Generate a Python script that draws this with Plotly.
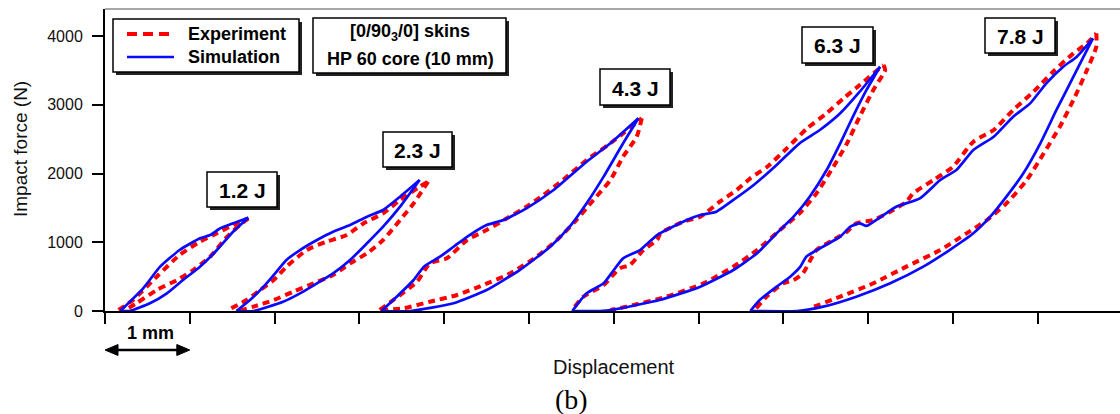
import plotly.graph_objects as go

# ---------------------------------------------------------------------------
# Force–displacement loops, [0/90_3/0] skins on HP 60 core (10 mm)
# Displacement in mm (each loop offset along the axis), force in N
# ---------------------------------------------------------------------------

energy_labels = ["1.2 J", "2.3 J", "4.3 J", "6.3 J", "7.8 J"]

# --- 1.2 J ---
sim_12_x = [0.18, 0.45, 0.65, 0.88, 1.12, 1.24, 1.36, 1.51, 1.69,
            1.51, 1.32, 1.12, 0.92, 0.73, 0.53, 0.29, 0.18]
sim_12_y = [0, 330, 645, 887, 1057, 1105, 1203, 1276, 1357,
            1153, 887, 645, 451, 257, 112, 0, 0]
exp_12_x = [0.16, 0.33, 0.61, 0.88, 1.12, 1.32, 1.51, 1.69,
            1.59, 1.44, 1.24, 1.04, 0.85, 0.61, 0.37, 0.24]
exp_12_y = [15, 160, 499, 815, 1008, 1130, 1251, 1348,
            1251, 1081, 790, 596, 451, 305, 112, 15]

# --- 2.3 J ---
sim_23_x = [1.55, 1.71, 1.87, 1.99, 2.14, 2.30, 2.50, 2.69, 2.89, 3.09, 3.28, 3.48, 3.71,
            3.48, 3.28, 3.09, 2.89, 2.69, 2.50, 2.30, 2.10, 1.75, 1.55]
sim_23_y = [0, 160, 354, 524, 742, 887, 1033, 1153, 1251, 1372, 1469, 1663, 1905,
            1517, 1226, 985, 742, 548, 403, 257, 135, 0, 0]
exp_23_x = [1.49, 1.67, 1.83, 1.99, 2.14, 2.38, 2.61, 2.85, 3.05, 3.28, 3.48, 3.71, 3.81,
            3.64, 3.48, 3.28, 3.09, 2.89, 2.69, 2.46, 2.22, 1.99, 1.75, 1.59]
exp_23_y = [39, 160, 305, 451, 645, 887, 1008, 1105, 1276, 1421, 1615, 1808, 1881,
            1566, 1324, 1033, 839, 693, 524, 403, 281, 160, 63, 5]

# --- 4.3 J ---
sim_43_x = [3.26, 3.44, 3.64, 3.76, 3.95, 4.11, 4.30, 4.50, 4.70, 4.97, 5.29, 5.68, 5.96, 6.29,
            6.11, 5.88, 5.68, 5.48, 5.25, 4.89, 4.50, 4.11, 3.60, 3.26]
sim_43_y = [0, 208, 451, 645, 790, 935, 1105, 1251, 1324, 1494, 1760, 2172, 2439, 2803,
            2439, 1954, 1566, 1226, 935, 596, 305, 112, 0, 0]
exp_43_x = [3.24, 3.40, 3.68, 3.83, 4.03, 4.27, 4.50, 4.74, 4.97, 5.17, 5.40, 5.68, 5.96, 6.33,
            6.27, 6.11, 5.96, 5.76, 5.56, 5.33, 5.09, 4.78, 4.46, 4.15, 3.83, 3.52, 3.28]
exp_43_y = [15, 160, 426, 693, 766, 1033, 1178, 1348, 1517, 1687, 1905, 2196, 2439, 2803,
            2535, 2245, 1905, 1615, 1324, 1033, 790, 548, 378, 233, 135, 39, 15]

# --- 6.3 J ---
sim_63_x = [5.51, 5.68, 5.88, 6.00, 6.11, 6.31, 6.51, 6.66, 6.86, 7.02, 7.21, 7.41, 7.65,
            7.92, 8.19, 8.43, 8.67, 8.90, 9.14,
            8.98, 8.82, 8.67, 8.51, 8.31, 8.12, 7.92, 7.69, 7.41, 7.02, 6.54, 5.97, 5.84, 5.51]
sim_63_y = [0, 257, 403, 596, 766, 887, 1105, 1203, 1324, 1396, 1445, 1615, 1833,
            2124, 2439, 2633, 2876, 3190, 3553,
            3215, 2827, 2439, 2051, 1663, 1372, 1130, 839, 596, 354, 160, 15, 0, 0]
exp_63_x = [5.54, 5.64, 5.88, 6.07, 6.19, 6.35, 6.51, 6.55, 6.82, 7.02, 7.25, 7.45, 7.61,
            7.81, 8.04, 8.28, 8.51, 8.71, 8.90, 9.18,
            9.20, 9.06, 8.90, 8.75, 8.59, 8.39, 8.19, 7.96, 7.69, 7.41, 7.06, 6.62, 6.15, 5.96]
exp_63_y = [63, 208, 378, 621, 669, 887, 1033, 1130, 1299, 1372, 1590, 1760, 1930,
            2099, 2366, 2657, 2876, 3094, 3287, 3578,
            3505, 3215, 2827, 2439, 2099, 1711, 1421, 1178, 887, 645, 403, 208, 63, 15]

# --- 7.8 J ---
sim_78_x = [7.61, 7.72, 7.92, 8.08, 8.20, 8.27, 8.43, 8.67, 8.79, 8.90, 8.98, 9.18, 9.33,
            9.61, 9.85, 10.04, 10.24, 10.48, 10.71, 10.91, 11.10, 11.30, 11.46, 11.65,
            11.42, 11.22, 11.03, 10.83, 10.63, 10.44, 10.24, 9.96, 9.65, 9.26, 8.86, 8.47,
            8.16, 7.61]
sim_78_y = [0, 160, 354, 499, 645, 790, 911, 1081, 1227, 1275, 1237, 1396, 1517,
            1639, 1905, 2051, 2342, 2535, 2827, 3020, 3311, 3553, 3699, 3966,
            3408, 2924, 2439, 2003, 1663, 1372, 1130, 887, 645, 403, 208, 63,
            0, 0]
exp_78_x = [7.68, 7.80, 8.00, 8.12, 8.23, 8.39, 8.59, 8.75, 8.86, 9.06, 9.26, 9.45, 9.53,
            9.77, 10.00, 10.24, 10.48, 10.71, 10.95, 11.18, 11.42, 11.58, 11.69,
            11.69, 11.58, 11.42, 11.26, 11.07, 10.87, 10.63, 10.40, 10.16, 9.85, 9.45,
            9.06, 8.67, 8.31]
exp_78_y = [39, 208, 403, 451, 548, 887, 1033, 1154, 1275, 1324, 1445, 1590, 1711,
            1905, 2099, 2463, 2633, 2924, 3190, 3481, 3748, 3894, 4039,
            3845, 3505, 3069, 2681, 2294, 1905, 1566, 1324, 1130, 887, 645,
            403, 208, 39]

y_ticks = [0, 1000, 2000, 3000, 4000]
x_ticks = list(range(0, 12))

sim_loops = [(sim_12_x, sim_12_y), (sim_23_x, sim_23_y), (sim_43_x, sim_43_y),
             (sim_63_x, sim_63_y), (sim_78_x, sim_78_y)]
exp_loops = [(exp_12_x, exp_12_y), (exp_23_x, exp_23_y), (exp_43_x, exp_43_y),
             (exp_63_x, exp_63_y), (exp_78_x, exp_78_y)]

RED = "#ff0000"
BLUE = "#0a0aff"
SANS = "Liberation Sans, Arial, sans-serif"
SERIF = "Liberation Serif, Times New Roman, serif"
EXP_DASH = "7px,5px"

# Figure geometry (pixels)
W, H = 1120, 414
ML, MR, MT, MB = 105, 0, 9, 103
PW, PH = W - ML - MR, H - MT - MB
X_MAX = PW / 84.8          # 1 mm of displacement ≈ 84.8 px
Y_MAX = PH / 68.75 * 1000  # 1000 N ≈ 68.75 px


def fx(p):
    """Pixel column -> paper x."""
    return (p - ML) / PW


def fy(p):
    """Pixel row -> paper y."""
    return (H - MB - p) / PH


def branches(xs, ys):
    """Split a loop at its peak force into loading and unloading branches."""
    k = ys.index(max(ys))
    return [(xs[:k + 1], ys[:k + 1]), (xs[k:], ys[k:])]


fig = go.Figure()

for (ex, ey) in exp_loops:
    for bx, by in branches(ex, ey):
        fig.add_trace(go.Scatter(x=bx, y=by, mode="lines", showlegend=False,
                                 line=dict(color=RED, width=4, dash=EXP_DASH,
                                           shape="spline", smoothing=0.6),
                                 hoverinfo="skip"))
for (sx, sy) in sim_loops:
    for bx, by in branches(sx, sy):
        fig.add_trace(go.Scatter(x=bx, y=by, mode="lines", showlegend=False,
                                 line=dict(color=BLUE, width=2.7,
                                           shape="spline", smoothing=0.5),
                                 hoverinfo="skip"))

shapes = []
annotations = []

# Top frame line
shapes.append(dict(type="line", xref="paper", yref="paper", x0=0, x1=1, y0=1, y1=1,
                   line=dict(color="#8a8a8a", width=1.5), layer="above"))


def shadow_box(x0, y0, x1, y1):
    """Boxed label with a dark drop shadow (pixel coordinates)."""
    shapes.append(dict(type="rect", xref="paper", yref="paper",
                       x0=fx(x0 + 3), x1=fx(x1 + 3), y0=fy(y1 + 3), y1=fy(y0 + 3),
                       fillcolor="#222222", line=dict(width=0), layer="above"))
    shapes.append(dict(type="rect", xref="paper", yref="paper",
                       x0=fx(x0), x1=fx(x1), y0=fy(y1), y1=fy(y0),
                       fillcolor="white", line=dict(color="black", width=1.5),
                       layer="above"))


def text(px, py, s, size=17, bold=True, family=SANS, xanchor="center", angle=0,
         color="black"):
    annotations.append(dict(xref="paper", yref="paper", x=fx(px), y=fy(py),
                            text=f"<b>{s}</b>" if bold else s, showarrow=False,
                            xanchor=xanchor, yanchor="middle", textangle=angle,
                            font=dict(family=family, size=size, color=color)))


# Legend
shadow_box(113, 19, 299, 72)
shapes.append(dict(type="line", xref="paper", yref="paper",
                   x0=fx(127), x1=fx(174), y0=fy(34), y1=fy(34),
                   line=dict(color=RED, width=4, dash="10px,6px"), layer="above"))
shapes.append(dict(type="line", xref="paper", yref="paper",
                   x0=fx(127), x1=fx(174), y0=fy(57), y1=fy(57),
                   line=dict(color=BLUE, width=2.7), layer="above"))
text(186, 34, "Experiment", size=18, xanchor="left")
text(186, 57, "Simulation", size=18, xanchor="left")

# Laminate description box
shadow_box(313, 18, 506, 73)
text(410, 33, "[0/90<sub>3</sub>/0] skins", size=18)
text(410, 59, "HP 60 core (10 mm)", size=18)

# Impact energy labels
label_boxes = [(207, 172, 277, 207), (383, 132, 452, 167), (600, 69, 670, 105),
               (802, 27, 873, 63), (985, 18, 1055, 53)]
for lab, (x0, y0, x1, y1) in zip(energy_labels, label_boxes):
    shadow_box(x0, y0, x1, y1)
    text((x0 + x1) / 2, (y0 + y1) / 2 + 1, lab, size=21)

# 1 mm scale bar: shaft plus two filled heads
BAR_Y, HEAD_L, HEAD_H = 350, 13, 5.5
shapes.append(dict(type="line", xref="paper", yref="paper",
                   x0=fx(ML + 8), x1=fx(ML + 84.8 - 8), y0=fy(BAR_Y), y1=fy(BAR_Y),
                   line=dict(color="black", width=2.5)))
for tip, back in [(ML, ML + HEAD_L), (ML + 84.8, ML + 84.8 - HEAD_L)]:
    shapes.append(dict(type="path", xref="paper", yref="paper",
                       path=(f"M {fx(tip)} {fy(BAR_Y)} L {fx(back)} {fy(BAR_Y - HEAD_H)} "
                             f"L {fx(back)} {fy(BAR_Y + HEAD_H)} Z"),
                       fillcolor="black", line=dict(color="black", width=1)))
text(150, 333, "1 mm", size=18)

# Axis titles and panel tag
text(614, 367, "Displacement", size=20, bold=False, color="#111")
text(20, 149, "Impact force (N)", size=19, bold=False, angle=-90, color="#111")
text(571, 399, "(b)", size=28, bold=False, family=SERIF)

fig.update_layout(
    width=W, height=H,
    margin=dict(l=ML, r=MR, t=MT, b=MB, pad=0),
    paper_bgcolor="white", plot_bgcolor="white",
    showlegend=False,
    shapes=shapes, annotations=annotations,
    xaxis=dict(range=[0, X_MAX], tickvals=x_ticks, showticklabels=False,
               ticks="outside", ticklen=11, tickwidth=1.6, tickcolor="black",
               showline=True, linecolor="black", linewidth=2,
               showgrid=False, zeroline=False, fixedrange=True),
    yaxis=dict(range=[0, Y_MAX], tickvals=y_ticks,
               ticks="outside", ticklen=11, tickwidth=1.6, tickcolor="black",
               showline=True, linecolor="black", linewidth=2,
               tickfont=dict(family=SANS, size=16, color="#111"),
               ticklabelstandoff=6,
               showgrid=False, zeroline=False, fixedrange=True),
)

fig.write_html("out.html")
